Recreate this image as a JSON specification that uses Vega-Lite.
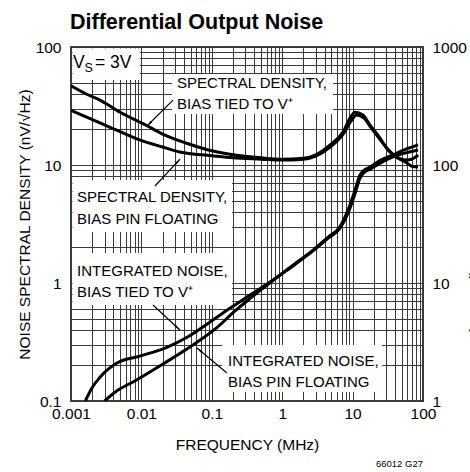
{
  "$schema": "https://vega.github.io/schema/vega-lite/v6.json",
  "width": 352,
  "height": 354,
  "autosize": {"type": "none"},
  "padding": {"left": 71, "top": 47, "right": 47, "bottom": 71},
  "background": "white",
  "config": {
    "font": "Liberation Sans",
    "view": {"stroke": "#000", "strokeWidth": 1.5},
    "axis": {"labelColor": "#000", "titleColor": "#000", "labelFont": "Liberation Sans", "titleFont": "Liberation Sans"}
  },
  "title": {"text": "Differential Output Noise", "anchor": "start", "frame": "group", "fontSize": 21.5, "fontWeight": "bold", "font": "Liberation Sans", "offset": 12, "dy": 22, "baseline": "alphabetic", "color": "#000", "dx": -1},
  "datasets": {
    "sd": [
      {"series": "tied", "f": 0.001, "v": 47}, {"series": "tied", "f": 0.0018, "v": 39}, {"series": "tied", "f": 0.00258, "v": 35.5}, {"series": "tied", "f": 0.005, "v": 28}, {"series": "tied", "f": 0.012, "v": 21.5}, {"series": "tied", "f": 0.02, "v": 18.3}, {"series": "tied", "f": 0.044, "v": 15.3}, {"series": "tied", "f": 0.1, "v": 13.2}, {"series": "tied", "f": 0.2, "v": 12.2}, {"series": "tied", "f": 0.5, "v": 11.5}, {"series": "tied", "f": 1, "v": 11.2}, {"series": "tied", "f": 2, "v": 11.4}, {"series": "tied", "f": 3, "v": 12.2}, {"series": "tied", "f": 4.8, "v": 14.8}, {"series": "tied", "f": 7.3, "v": 19}, {"series": "tied", "f": 9.2, "v": 25}, {"series": "tied", "f": 10.8, "v": 28}, {"series": "tied", "f": 14, "v": 26.5}, {"series": "tied", "f": 17.7, "v": 21.8}, {"series": "tied", "f": 24.5, "v": 16.9}, {"series": "tied", "f": 31.8, "v": 13.4}, {"series": "tied", "f": 37.5, "v": 12.2}, {"series": "tied", "f": 59, "v": 10.4}, {"series": "tied", "f": 71, "v": 9.7}, {"series": "tied", "f": 85, "v": 9.6},
      {"series": "float", "f": 0.001, "v": 29}, {"series": "float", "f": 0.00258, "v": 22.7}, {"series": "float", "f": 0.005, "v": 19.2}, {"series": "float", "f": 0.0095, "v": 16.3}, {"series": "float", "f": 0.02, "v": 14.2}, {"series": "float", "f": 0.035, "v": 12.9}, {"series": "float", "f": 0.1, "v": 12.0}, {"series": "float", "f": 0.2, "v": 11.5}, {"series": "float", "f": 0.5, "v": 11.2}, {"series": "float", "f": 1, "v": 11.0}, {"series": "float", "f": 2, "v": 11.2}, {"series": "float", "f": 3, "v": 11.9}, {"series": "float", "f": 4.8, "v": 14.2}, {"series": "float", "f": 7.3, "v": 18.2}, {"series": "float", "f": 9.5, "v": 23.5}, {"series": "float", "f": 11.4, "v": 26.5}, {"series": "float", "f": 14.5, "v": 25}, {"series": "float", "f": 18.5, "v": 20.5}, {"series": "float", "f": 25, "v": 16.2}, {"series": "float", "f": 31.8, "v": 13.6}, {"series": "float", "f": 37.5, "v": 12.3}, {"series": "float", "f": 59, "v": 11.0}, {"series": "float", "f": 77, "v": 11.6}, {"series": "float", "f": 85, "v": 12.2}
    ],
    "integ": [
      {"series": "tied", "f": 0.0016, "uv": 1.0}, {"series": "tied", "f": 0.002, "uv": 1.3}, {"series": "tied", "f": 0.0026, "uv": 1.6}, {"series": "tied", "f": 0.0045, "uv": 2.1}, {"series": "tied", "f": 0.0095, "uv": 2.4}, {"series": "tied", "f": 0.023, "uv": 2.85}, {"series": "tied", "f": 0.044, "uv": 3.45}, {"series": "tied", "f": 0.104, "uv": 4.85}, {"series": "tied", "f": 0.18, "uv": 6.1}, {"series": "tied", "f": 0.35, "uv": 7.9}, {"series": "tied", "f": 0.74, "uv": 10.6}, {"series": "tied", "f": 1.5, "uv": 14.5}, {"series": "tied", "f": 2.74, "uv": 19}, {"series": "tied", "f": 4.5, "uv": 24.5}, {"series": "tied", "f": 6.6, "uv": 30}, {"series": "tied", "f": 8.6, "uv": 41.6}, {"series": "tied", "f": 10.8, "uv": 61}, {"series": "tied", "f": 12.7, "uv": 82}, {"series": "tied", "f": 14.5, "uv": 90}, {"series": "tied", "f": 17.7, "uv": 96}, {"series": "tied", "f": 25, "uv": 110}, {"series": "tied", "f": 37.5, "uv": 122}, {"series": "tied", "f": 55, "uv": 135}, {"series": "tied", "f": 85, "uv": 148},
      {"series": "float", "f": 0.003, "uv": 1.0}, {"series": "float", "f": 0.0045, "uv": 1.22}, {"series": "float", "f": 0.0076, "uv": 1.45}, {"series": "float", "f": 0.02, "uv": 2.05}, {"series": "float", "f": 0.054, "uv": 2.98}, {"series": "float", "f": 0.119, "uv": 4.2}, {"series": "float", "f": 0.2, "uv": 5.6}, {"series": "float", "f": 0.35, "uv": 7.4}, {"series": "float", "f": 0.74, "uv": 10.5}, {"series": "float", "f": 1.5, "uv": 14.3}, {"series": "float", "f": 2.74, "uv": 18.7}, {"series": "float", "f": 4.5, "uv": 24}, {"series": "float", "f": 6.6, "uv": 29}, {"series": "float", "f": 8.6, "uv": 39}, {"series": "float", "f": 10.8, "uv": 57}, {"series": "float", "f": 12.7, "uv": 77}, {"series": "float", "f": 14.5, "uv": 86}, {"series": "float", "f": 17.7, "uv": 92}, {"series": "float", "f": 25, "uv": 104}, {"series": "float", "f": 37.5, "uv": 117}, {"series": "float", "f": 55, "uv": 126}, {"series": "float", "f": 85, "uv": 134}
    ],
    "boxes": [
      {"x1": 0.00105, "x2": 0.00955, "y1": 97, "y2": 52.5},
      {"x1": 0.0272, "x2": 5.27, "y1": 59.1, "y2": 27.05},
      {"x1": 0.00105, "x2": 0.1937, "y1": 7.46, "y2": 2.71},
      {"x1": 0.00105, "x2": 0.1937, "y1": 1.795, "y2": 0.651},
      {"x1": 0.1397, "x2": 26.2, "y1": 0.2985, "y2": 0.119}
    ],
    "labels": [
      {"x": 0.032, "y": 44.8, "text": "SPECTRAL DENSITY,"},
      {"x": 0.032, "y": 29.8, "text": "BIAS TIED TO V⁺"},
      {"x": 0.00122, "y": 4.85, "text": "SPECTRAL DENSITY,"},
      {"x": 0.00122, "y": 3.15, "text": "BIAS PIN FLOATING"},
      {"x": 0.00122, "y": 1.145, "text": "INTEGRATED NOISE,"},
      {"x": 0.00122, "y": 0.76, "text": "BIAS TIED TO V⁺"},
      {"x": 0.170, "y": 0.198, "text": "INTEGRATED NOISE,"},
      {"x": 0.170, "y": 0.131, "text": "BIAS PIN FLOATING"}
    ],
    "arrows": [
      {"id": "a2", "x": 0.0281, "y": 35.5, "x2": 0.0120, "y2": 21.4},
      {"id": "a3", "x": 0.0156, "y": 6.64, "x2": 0.0353, "y2": 11.2},
      {"id": "a4", "x": 0.0146, "y": 0.651, "x2": 0.0353, "y2": 0.40},
      {"id": "a5", "x": 0.164, "y": 0.1727, "x2": 0.0617, "y2": 0.281}
    ],
    "heads": [
      {"id": "a2", "x": 0.01316, "y": 22.6},
      {"id": "a3", "x": 0.03236, "y": 10.6},
      {"id": "a4", "x": 0.0321, "y": 0.421},
      {"id": "a5", "x": 0.0682, "y": 0.2674}
    ],
    "vs": [
      {"part": "V", "x": 0.001068, "y": 66.4},
      {"part": "S", "x": 0.00155, "y": 61.0},
      {"part": "= 3V", "x": 0.002194, "y": 66.4}
    ],
    "note": [{"x": 100, "y": 0.0276, "text": "66012 G27"}]
  },
  "layer": [
    {
      "layer": [
        {
          "data": {"name": "boxes"},
          "mark": {"type": "rect", "fill": "white", "stroke": null},
          "encoding": {
            "x": {"field": "x1", "type": "quantitative", "scale": {"type": "log", "domain": [0.001, 100]},
              "axis": {"values": [0.001,0.002,0.003,0.004,0.005,0.006,0.007,0.008,0.009,0.01,0.02,0.03,0.04,0.05,0.06,0.07,0.08,0.09,0.1,0.2,0.3,0.4,0.5,0.6,0.7,0.8,0.9,1,2,3,4,5,6,7,8,9,10,20,30,40,50,60,70,80,90,100],
                "format": "~g", "labelExpr": "abs(log(datum.value)/LN10 - round(log(datum.value)/LN10)) < 0.001 ? datum.label : ''",
                "grid": true, "gridColor": "#3a3a3a", "gridWidth": 1, "gridOpacity": 1, "ticks": false, "domain": false,
                "labelFontSize": 15.5, "labelPadding": 5, "labelFlush": false, "labelOverlap": false,
                "title": "FREQUENCY (MHz)", "titleFontSize": 15.5, "titleFontWeight": "normal", "titlePadding": 16}},
            "x2": {"field": "x2"},
            "y": {"field": "y1", "type": "quantitative", "scale": {"type": "log", "domain": [0.1, 100]},
              "axis": {"values": [0.1,0.2,0.3,0.4,0.5,0.6,0.7,0.8,0.9,1,2,3,4,5,6,7,8,9,10,20,30,40,50,60,70,80,90,100],
                "format": "~g", "labelExpr": "abs(log(datum.value)/LN10 - round(log(datum.value)/LN10)) < 0.001 ? datum.label : ''",
                "grid": true, "gridColor": "#3a3a3a", "gridWidth": 1, "gridOpacity": 1, "ticks": false, "domain": false,
                "labelFontSize": 15.5, "labelPadding": 10, "labelOverlap": false, "labelFlush": false,
                "title": "NOISE SPECTRAL DENSITY (nV/√Hz)", "titleFontSize": 15.5, "titleFontWeight": "normal", "titlePadding": 3}},
            "y2": {"field": "y2"}
          }
        },
        {
          "data": {"name": "sd"},
          "mark": {"type": "line", "color": "#000", "strokeWidth": 3, "interpolate": "monotone", "clip": true},
          "encoding": {
            "x": {"field": "f", "type": "quantitative"},
            "y": {"field": "v", "type": "quantitative"},
            "detail": {"field": "series"}
          }
        },
        {
          "data": {"name": "arrows"},
          "mark": {"type": "rule", "color": "#000", "strokeWidth": 1.2},
          "encoding": {
            "x": {"field": "x", "type": "quantitative"},
            "x2": {"field": "x2"},
            "y": {"field": "y", "type": "quantitative"},
            "y2": {"field": "y2"}
          }
        },
        {
          "data": {"name": "heads"},
          "transform": [{"filter": "datum.id == 'a2'"}],
          "mark": {"type": "point", "shape": "wedge", "filled": true, "color": "#000", "size": 70, "opacity": 1, "angle": 225},
          "encoding": {"x": {"field": "x", "type": "quantitative"}, "y": {"field": "y", "type": "quantitative"}}
        },
        {
          "data": {"name": "heads"},
          "transform": [{"filter": "datum.id == 'a3'"}],
          "mark": {"type": "point", "shape": "wedge", "filled": true, "color": "#000", "size": 70, "opacity": 1, "angle": 43},
          "encoding": {"x": {"field": "x", "type": "quantitative"}, "y": {"field": "y", "type": "quantitative"}}
        },
        {
          "data": {"name": "heads"},
          "transform": [{"filter": "datum.id == 'a4'"}],
          "mark": {"type": "point", "shape": "wedge", "filled": true, "color": "#000", "size": 70, "opacity": 1, "angle": 133},
          "encoding": {"x": {"field": "x", "type": "quantitative"}, "y": {"field": "y", "type": "quantitative"}}
        },
        {
          "data": {"name": "heads"},
          "transform": [{"filter": "datum.id == 'a5'"}],
          "mark": {"type": "point", "shape": "wedge", "filled": true, "color": "#000", "size": 70, "opacity": 1, "angle": 310},
          "encoding": {"x": {"field": "x", "type": "quantitative"}, "y": {"field": "y", "type": "quantitative"}}
        },
        {
          "data": {"name": "labels"},
          "mark": {"type": "text", "align": "left", "baseline": "alphabetic", "fontSize": 15, "color": "#000"},
          "encoding": {
            "x": {"field": "x", "type": "quantitative"},
            "y": {"field": "y", "type": "quantitative"},
            "text": {"field": "text"}
          }
        },
        {
          "data": {"name": "vs"},
          "transform": [{"filter": "datum.part != 'S'"}],
          "mark": {"type": "text", "align": "left", "baseline": "alphabetic", "fontSize": 17.5, "color": "#000"},
          "encoding": {
            "x": {"field": "x", "type": "quantitative"},
            "y": {"field": "y", "type": "quantitative"},
            "text": {"field": "part"}
          }
        },
        {
          "data": {"name": "vs"},
          "transform": [{"filter": "datum.part == 'S'"}],
          "mark": {"type": "text", "align": "left", "baseline": "alphabetic", "fontSize": 12.5, "color": "#000"},
          "encoding": {
            "x": {"field": "x", "type": "quantitative"},
            "y": {"field": "y", "type": "quantitative"},
            "text": {"field": "part"}
          }
        },
        {
          "data": {"name": "note"},
          "mark": {"type": "text", "align": "right", "baseline": "alphabetic", "fontSize": 9.5, "color": "#000"},
          "encoding": {
            "x": {"field": "x", "type": "quantitative"},
            "y": {"field": "y", "type": "quantitative"},
            "text": {"field": "text"}
          }
        }
      ]
    },
    {
      "data": {"name": "integ"},
      "mark": {"type": "line", "color": "#000", "strokeWidth": 3, "interpolate": "monotone", "clip": true},
      "encoding": {
        "x": {"field": "f", "type": "quantitative"},
        "y": {"field": "uv", "type": "quantitative", "scale": {"type": "log", "domain": [1, 1000]},
          "axis": {"orient": "right", "values": [1,2,3,4,5,6,7,8,9,10,20,30,40,50,60,70,80,90,100,200,300,400,500,600,700,800,900,1000],
            "format": "~g", "labelExpr": "abs(log(datum.value)/LN10 - round(log(datum.value)/LN10)) < 0.001 ? datum.label : ''",
            "grid": false, "ticks": false, "domain": false, "labelFontSize": 15.5, "labelPadding": 9, "labelOverlap": false, "labelFlush": false,
            "title": "INTEGRATED NOISE (µVRMS)", "titleFontSize": 15.5, "titleFontWeight": "normal", "titlePadding": 2}},
        "detail": {"field": "series"}
      }
    }
  ],
  "resolve": {"scale": {"y": "independent"}}
}
